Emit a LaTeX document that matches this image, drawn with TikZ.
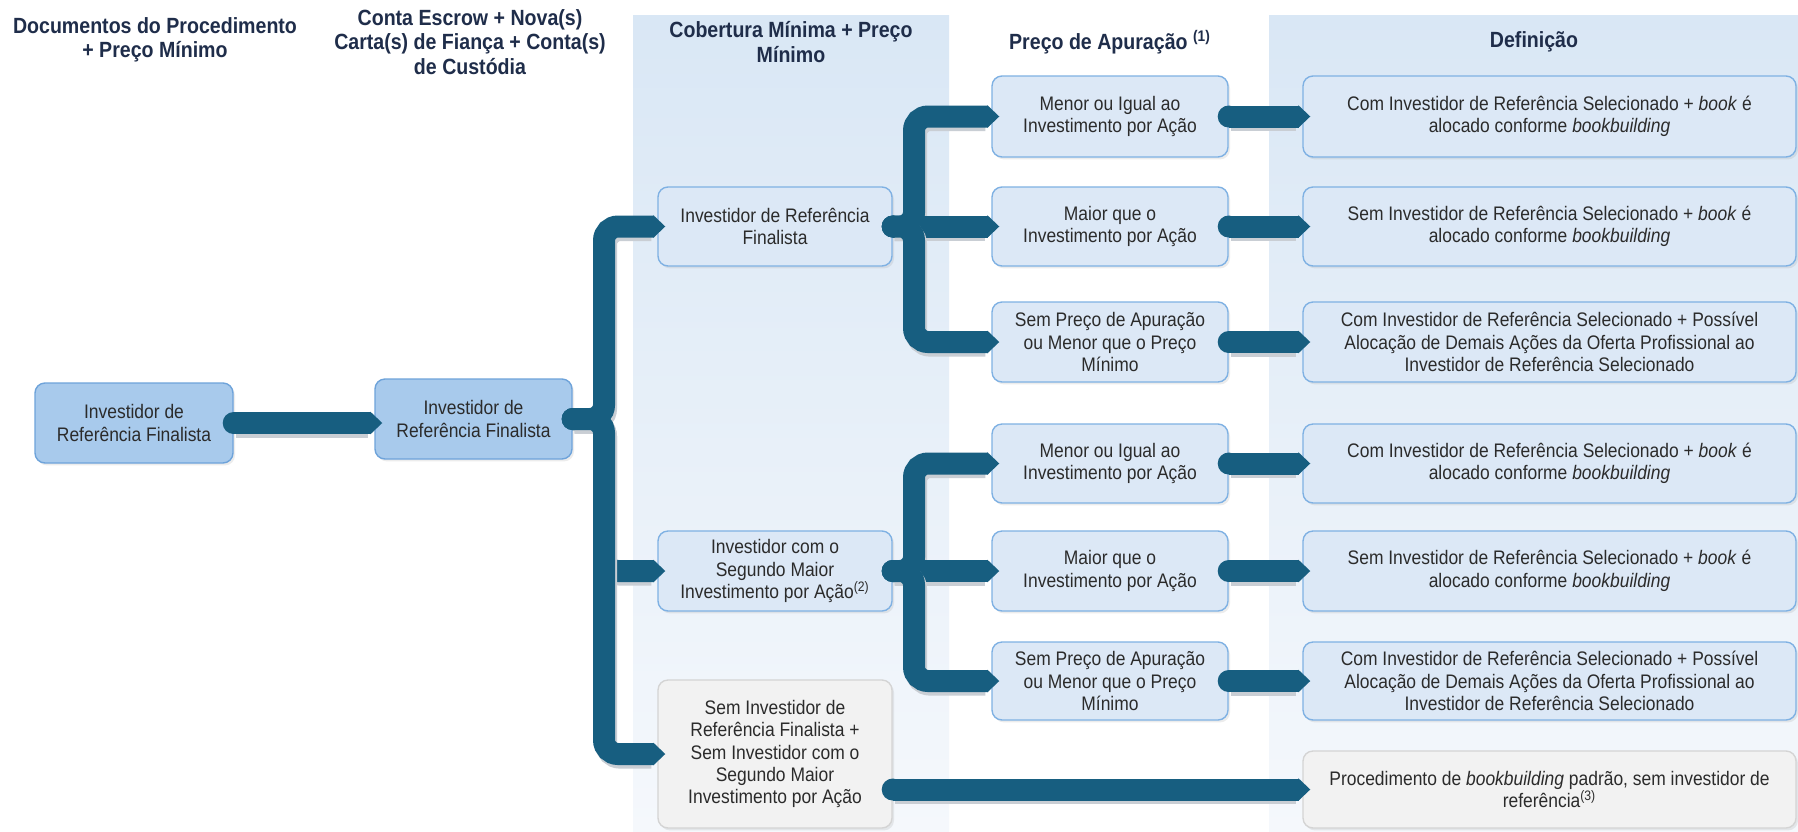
\documentclass[tikz,border=0pt]{standalone}
\usepackage{fontspec}
\setmainfont{Liberation Sans}[FakeStretch=0.89]
\usetikzlibrary{arrows.meta,shadows}
\definecolor{conncol}{RGB}{23,94,128}
\definecolor{darkfill}{HTML}{A8CAEC}
\definecolor{darkedge}{HTML}{6EA3DA}
\definecolor{lightfill}{HTML}{DCE8F6}
\definecolor{lightedge}{HTML}{7FB1E3}
\definecolor{grayfill}{HTML}{F2F2F2}
\definecolor{grayedge}{HTML}{D4D4D4}
\definecolor{bandtop}{HTML}{D9E7F5}
\definecolor{bandbot}{HTML}{F5F8FC}
\definecolor{headcol}{HTML}{1F2D4A}
\definecolor{textcol}{HTML}{2B2B2B}
\definecolor{shadcol}{HTML}{C9CED4}
% #1 = start coordinate, #2 = rest of the path
\newcommand\mkconn[2]{%
  \draw[connsh] (#1) #2;
  \draw[conn] (#1) #2;
  \fill[conncol] (#1) circle[radius=5.5pt];}
\begin{document}
\begin{tikzpicture}[x=0.5pt,y=-0.5pt,
  box/.style={rounded corners=5pt, line width=0.7pt, align=center, text=textcol,
    font=\fontsize{9.8}{11.2}\selectfont, inner sep=2pt,
    drop shadow={opacity=0.15,shadow xshift=1pt,shadow yshift=-1.2pt}},
  darkbox/.style={box, fill=darkfill, draw=darkedge},
  lightbox/.style={box, fill=lightfill, draw=lightedge},
  graybox/.style={box, fill=grayfill, draw=grayedge},
  head/.style={align=center, text=headcol, font=\fontsize{11}{12.3}\selectfont\bfseries},
  conn/.style={draw=conncol, line width=11pt, rounded corners=7pt, line cap=butt,
    -{Triangle[width=11pt,length=6pt]}, shorten >=-4pt},
  connsh/.style={draw=shadcol, line width=11pt, rounded corners=7pt, line cap=butt,
    shorten >=4pt, transform canvas={shift={(1pt,-1.8pt)}}},
]
\useasboundingbox (0,0) rectangle (1798,831);
\fill[white] (0,0) rectangle (1798,831);
% bands
\shade[top color=bandtop, bottom color=bandbot] (633,15) rectangle (949,831);
\shade[top color=bandtop, bottom color=bandbot] (1269,15) rectangle (1798,831);

% headers
\node[head] (h1) at (155,40) {Documentos do Procedimento\\+ Preço Mínimo};
\node[head] (h2) at (470,42) {Conta Escrow + Nova(s)\\Carta(s) de Fiança + Conta(s)\\de Custódia};
\node[head] (h3) at (791,42) {Cobertura Mínima + Preço\\Mínimo};
\node[head] (h4) at (1110,42) {Preço de Apuração \textsuperscript{(1)}};
\node[head] (h5) at (1534,42) {Definição};

% column 1 and 2
\node[darkbox, minimum width=99pt, minimum height=40pt] (A) at (134,423) {Investidor de\\Referência Finalista};
\node[darkbox, minimum width=98.5pt, minimum height=40pt] (B) at (473.5,419) {Investidor de\\Referência Finalista};

% column 3
\node[lightbox, minimum width=117pt, minimum height=39.5pt] (C) at (775,226.5) {Investidor de Referência\\Finalista};
\node[lightbox, minimum width=117pt, minimum height=40pt] (D) at (775,571) {Investidor com o\\Segundo Maior\\Investimento por Ação\textsuperscript{(2)}};
\node[graybox, minimum width=117pt, minimum height=74pt] (E) at (775,754) {Sem Investidor de\\Referência Finalista +\\Sem Investidor com o\\Segundo Maior\\Investimento por Ação};

% column 4
\node[lightbox, minimum width=118pt, minimum height=40.5pt] (P1) at (1110,116.5) {Menor ou Igual ao\\Investimento por Ação};
\node[lightbox, minimum width=118pt, minimum height=39.5pt] (P2) at (1110,226.5) {Maior que o\\Investimento por Ação};
\node[lightbox, minimum width=118pt, minimum height=40pt] (P3) at (1110,342) {Sem Preço de Apuração\\ou Menor que o Preço\\Mínimo};
\node[lightbox, minimum width=118pt, minimum height=39.5pt] (P4) at (1110,463.5) {Menor ou Igual ao\\Investimento por Ação};
\node[lightbox, minimum width=118pt, minimum height=40pt] (P5) at (1110,571) {Maior que o\\Investimento por Ação};
\node[lightbox, minimum width=118pt, minimum height=39pt] (P6) at (1110,681) {Sem Preço de Apuração\\ou Menor que o Preço\\Mínimo};

% column 5
\node[lightbox, minimum width=246.5pt, minimum height=40.5pt] (D1) at (1549.5,116.5) {Com Investidor de Referência Selecionado + \textit{book} é\\alocado conforme \textit{bookbuilding}};
\node[lightbox, minimum width=246.5pt, minimum height=39.5pt] (D2) at (1549.5,226.5) {Sem Investidor de Referência Selecionado + \textit{book} é\\alocado conforme \textit{bookbuilding}};
\node[lightbox, minimum width=246.5pt, minimum height=40pt] (D3) at (1549.5,342) {Com Investidor de Referência Selecionado + Possível\\Alocação de Demais Ações da Oferta Profissional ao\\Investidor de Referência Selecionado};
\node[lightbox, minimum width=246.5pt, minimum height=39.5pt] (D4) at (1549.5,463.5) {Com Investidor de Referência Selecionado + \textit{book} é\\alocado conforme \textit{bookbuilding}};
\node[lightbox, minimum width=246.5pt, minimum height=40pt] (D5) at (1549.5,571) {Sem Investidor de Referência Selecionado + \textit{book} é\\alocado conforme \textit{bookbuilding}};
\node[lightbox, minimum width=246.5pt, minimum height=39pt] (D6) at (1549.5,681) {Com Investidor de Referência Selecionado + Possível\\Alocação de Demais Ações da Oferta Profissional ao\\Investidor de Referência Selecionado};
\node[graybox, minimum width=246.5pt, minimum height=38.5pt] (D7) at (1549.5,789.5) {Procedimento de \textit{bookbuilding} padrão, sem investidor de\\referência\textsuperscript{(3)}};

% junctions
\coordinate (j1) at (604,419);
\coordinate (j2) at (914,226.5);
\coordinate (j3) at (914,571);

% connectors
\mkconn{A.east}{-- (A.east -| B.west)}
\mkconn{B.east}{-- (j1) |- (C.west)}
\mkconn{B.east}{-- (j1) |- (D.west)}
\mkconn{B.east}{-- (j1) |- (E.west)}

\mkconn{C.east}{-- (j2) |- (P1.west)}
\mkconn{C.east}{-- (P2.west)}
\mkconn{C.east}{-- (j2) |- (P3.west)}

\mkconn{D.east}{-- (j3) |- (P4.west)}
\mkconn{D.east}{-- (P5.west)}
\mkconn{D.east}{-- (j3) |- (P6.west)}

\mkconn{P1.east}{-- (D1.west)}
\mkconn{P2.east}{-- (D2.west)}
\mkconn{P3.east}{-- (D3.west)}
\mkconn{P4.east}{-- (D4.west)}
\mkconn{P5.east}{-- (D5.west)}
\mkconn{P6.east}{-- (D6.west)}
\mkconn{E.east |- D7.west}{-- (D7.west)}
\end{tikzpicture}
\end{document}
